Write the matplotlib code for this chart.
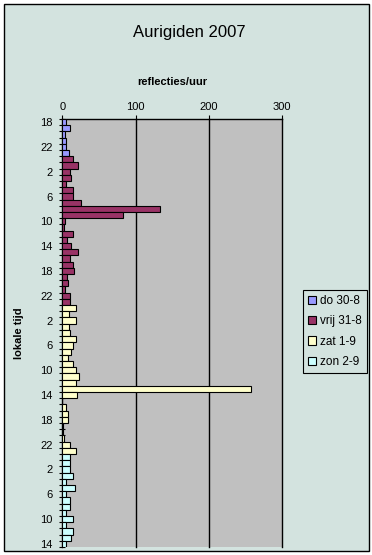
import numpy as np
import matplotlib
matplotlib.use("Agg")
import matplotlib.pyplot as plt
from matplotlib.patches import Rectangle, Patch

plt.rcParams['font.family'] = ['Liberation Sans', 'DejaVu Sans']

# reflecties/uur per uur (lokale tijd)
do_30_8 = [5, 10, 4, 5, 5, 9]                     # 18..23 h
vrij_31_8 = [14, 22, 11, 12, 5, 15, 14, 25, 133, 83, 4, 3,
             15, 6, 12, 21, 10, 14, 16, 6, 8, 4, 11, 10]   # 0..23 h
zat_1_9 = [18, 9, 18, 9, 10, 19, 14, 12, 8, 14, 18, 23,
           18, 257, 20, 0, 5, 8, 8, 1, 1, 3, 10, 18]       # 0..23 h
zon_2_9 = [10, 10, 11, 15, 5, 17, 5, 11, 10, 5, 15, 5, 14, 12, 5]  # 0..14 h

hours = list(range(18, 24)) + list(range(24)) + list(range(24)) + list(range(15))
series = [("do 30-8", do_30_8, "#9999FF"),
          ("vrij 31-8", vrij_31_8, "#993366"),
          ("zat 1-9", zat_1_9, "#FFFFCC"),
          ("zon 2-9", zon_2_9, "#CCFFFF")]
x_ticks = [0, 100, 200, 300]

bg = "#D3E3DF"
W, H = 372, 555
fig = plt.figure(figsize=(W / 100, H / 100), dpi=100, facecolor="white")
fig.patches.append(Rectangle((4 / W, 4 / H), 365 / W, 547 / H, transform=fig.transFigure,
                             facecolor=bg, edgecolor="black", lw=1.0, zorder=-10))

ax = fig.add_axes([62.3 / W, 1 - 547 / H, 220 / W, 428 / H])
ax.set_facecolor("#C0C0C0")

start = 0
handles = []
for name, vals, col in series:
    pos = np.arange(start, start + len(vals))
    ax.barh(pos, vals, height=1.0, color=col, edgecolor="black", lw=0.8, zorder=3)
    handles.append(Patch(facecolor=col, edgecolor="black", lw=0.8, label=name))
    start += len(vals)

n = len(hours)
ax.set_xlim(0, 300)
ax.set_ylim(n - 0.5, -0.5)
ax.xaxis.tick_top()
ax.set_xticks(x_ticks)
ax.tick_params(axis="x", labelsize=8, length=3, pad=2)
for v in x_ticks[1:]:
    ax.axvline(v, color="black", lw=1.0, zorder=2, clip_on=False)

major = [i for i in range(n) if hours[i] % 4 == 2]
ax.set_yticks(major)
ax.set_yticklabels([str(hours[i]) for i in major])
ax.set_yticks(np.arange(-0.5, n, 1.0), minor=True)
ax.tick_params(axis="y", which="major", length=0, labelsize=8, pad=7)
ax.tick_params(axis="y", which="minor", length=5, direction="inout", width=0.8)

for s in ["right", "bottom"]:
    ax.spines[s].set_visible(False)
ax.spines["left"].set_linewidth(1.0)
ax.spines["top"].set_linewidth(1.0)

fig.text(189 / W, 1 - 32 / H, "Aurigiden 2007", ha="center", va="center", fontsize=12)
fig.text(172 / W, 1 - 82 / H, "reflecties/uur", ha="center", va="center",
         fontsize=8, fontweight="bold")
fig.text(19 / W, 1 - 333 / H, "lokale tijd", ha="center", va="center",
         fontsize=8, fontweight="bold", rotation=90)

leg = fig.legend(handles=handles, loc="upper left", bbox_to_anchor=(297 / W, 1 - 284 / H),
                 fontsize=8.5, frameon=True, fancybox=False, edgecolor="black",
                 facecolor=bg, framealpha=1, handlelength=0.7, handleheight=0.7,
                 handletextpad=0.3, labelspacing=0.7, borderpad=0.45)
leg.get_frame().set_linewidth(0.8)

fig.savefig("out.png", dpi=100, facecolor="white")
